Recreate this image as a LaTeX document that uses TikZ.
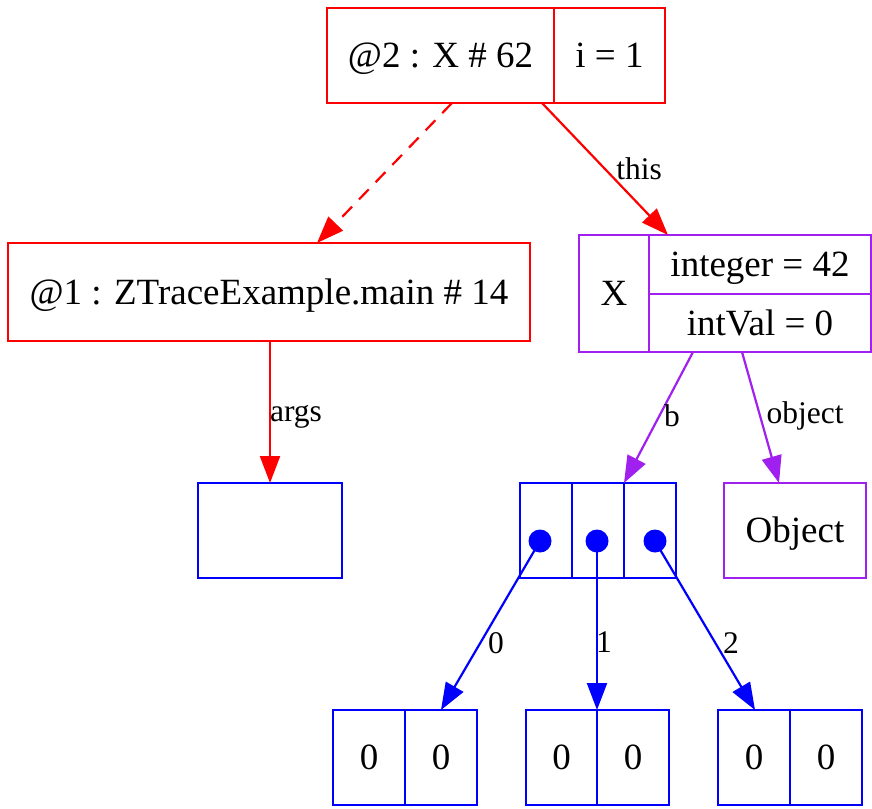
\documentclass[tikz,border=0pt]{standalone}
\usepackage{fontspec}
\setmainfont{Liberation Serif}
\usetikzlibrary{arrows.meta}
\definecolor{gvred}{RGB}{255,0,0}
\definecolor{gvpurple}{RGB}{160,32,240}
\definecolor{gvblue}{RGB}{0,0,255}
\begin{document}
\begin{tikzpicture}[x=1pt,y=-1pt,
  cell/.style={draw,line width=2.2pt,rectangle,inner sep=0pt,font=\fontsize{37}{42}\selectfont,text height=24pt,text depth=0pt},
  edge/.style={line width=2.2pt,-{Triangle[length=27pt,width=20pt]}},
  elab/.style={font=\fontsize{31.5}{36}\selectfont,inner sep=0pt},
  dotn/.style={circle,fill=gvblue,inner sep=0pt,minimum size=23pt}]
\useasboundingbox (0,0) rectangle (872,808);
% top frame
\node[cell,gvred,text=black,minimum width=227pt,minimum height=95pt] (topA) at (440.5,55.5) {@2 : X \# 62};
\node[cell,gvred,text=black,minimum width=111pt,minimum height=95pt] (topB) at (609.5,55.5) {i = 1};
% main frame
\node[cell,gvred,text=black,minimum width=522pt,minimum height=98pt] (frame) at (269,292) {@1 : ZTraceExample.main \# 14};
% X object
\node[cell,gvpurple,text=black,minimum width=70pt,minimum height=117pt] (Xa) at (614,293.5) {X};
\node[cell,gvpurple,text=black,minimum width=222pt,minimum height=59pt] (Xb1) at (760,264.5) {integer = 42};
\node[cell,gvpurple,text=black,minimum width=222pt,minimum height=58pt] (Xb2) at (760,323) {intVal = 0};
% args array
\node[cell,gvblue,minimum width=144pt,minimum height=95pt] (args) at (270,530.5) {};
% b array
\node[cell,gvblue,minimum width=52pt,minimum height=95pt] (c0) at (546,530.5) {};
\node[cell,gvblue,minimum width=52pt,minimum height=95pt] (c1) at (598,530.5) {};
\node[cell,gvblue,minimum width=52pt,minimum height=95pt] (c2) at (650,530.5) {};
\node[dotn] (d0) at (540,541) {};
\node[dotn] (d1) at (597,541) {};
\node[dotn] (d2) at (655,541) {};
% Object
\node[cell,gvpurple,text=black,minimum width=142pt,minimum height=95pt] (obj) at (795,530.5) {Object};
% bottom arrays
\node[cell,gvblue,text=black,minimum width=72pt,minimum height=95pt] (a0l) at (369,757.5) {0};
\node[cell,gvblue,text=black,minimum width=72pt,minimum height=95pt] (a0r) at (441,757.5) {0};
\node[cell,gvblue,text=black,minimum width=71pt,minimum height=95pt] (a1l) at (561.5,757.5) {0};
\node[cell,gvblue,text=black,minimum width=72pt,minimum height=95pt] (a1r) at (633,757.5) {0};
\node[cell,gvblue,text=black,minimum width=72pt,minimum height=95pt] (a2l) at (754,757.5) {0};
\node[cell,gvblue,text=black,minimum width=72pt,minimum height=95pt] (a2r) at (826,757.5) {0};
% ports
\coordinate (pTopL) at (452,103);
\coordinate (pTopR) at (542,103);
\coordinate (pFrameIn) at (317,243);
\coordinate (pFrameOut) at (270,341);
\coordinate (pArgs) at (270,483);
\coordinate (pXIn) at (668,235);
\coordinate (pXb) at (693,352);
\coordinate (pXo) at (742,352);
\coordinate (pArr) at (624,483);
\coordinate (pObj) at (779,483);
\coordinate (pA0) at (441,710);
\coordinate (pA1) at (597,710);
\coordinate (pA2) at (755,710);
% edges
\draw[edge,gvred,dashed,dash pattern=on 14pt off 10pt] (pTopL) -- (pFrameIn);
\draw[edge,gvred] (pTopR) -- (pXIn);
\node[elab] (lthis) at (639,169) {this};
\draw[edge,gvred] (pFrameOut) -- (pArgs);
\node[elab] (largs) at (296,417) {args};
\draw[edge,gvpurple] (pXb) -- (pArr);
\node[elab] (lb) at (672,416) {b};
\draw[edge,gvpurple] (pXo) -- (pObj);
\node[elab] (lobj) at (805,416) {object};
\draw[edge,gvblue] (d0.center) -- (pA0);
\node[elab] (l0) at (496,643) {0};
\draw[edge,gvblue] (d1.center) -- (pA1);
\node[elab] (l1) at (604,642) {1};
\draw[edge,gvblue] (d2.center) -- (pA2);
\node[elab] (l2) at (731,643) {2};
\end{tikzpicture}
\end{document}
